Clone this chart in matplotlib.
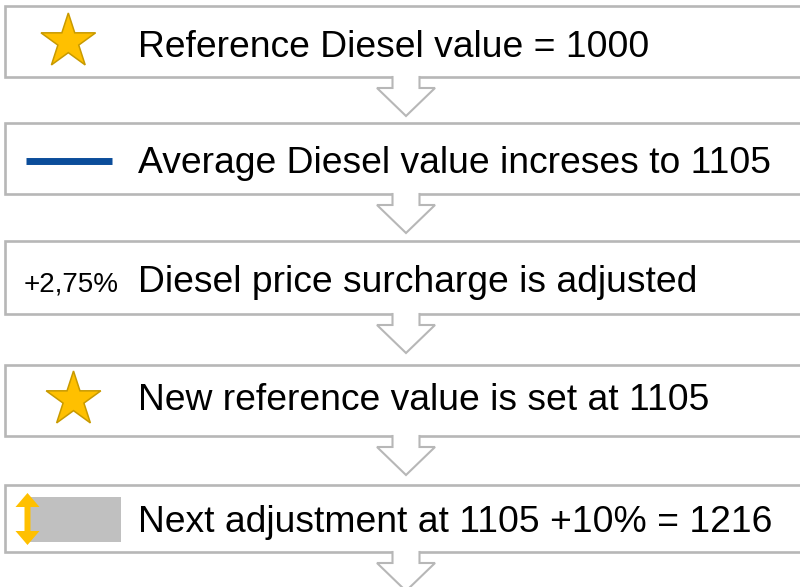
import numpy as np
import matplotlib.pyplot as plt
from matplotlib.patches import Rectangle, Polygon

plt.rcParams['font.family'] = ['Liberation Sans', 'DejaVu Sans']

# steps of the diesel surcharge process
steps = ['Reference Diesel value = 1000',
         'Average Diesel value increses to 1105',
         'Diesel price surcharge is adjusted',
         'New reference value is set at 1105',
         'Next adjustment at 1105 +10% = 1216']
icons = ['star', 'line', 'pct', 'star', 'range']
surcharge_label = '+2,75%'

# layout (pixels, figure is 800x587)
box_top = [6, 123, 241, 365, 485]
box_bot = [77, 194, 314, 436, 552]
baseline = [56.7, 172.7, 291.7, 410, 531.7]
star_x = [68.3, 0, 0, 73.5, 0]

border = '#b7b7b7'
gold = '#ffc000'
gold_edge = '#c89a00'
blue = '#0b4d9a'

fig = plt.figure(figsize=(8, 5.87), dpi=100)
ax = fig.add_axes([0, 0, 1, 1])
ax.set_xlim(0, 800)
ax.set_ylim(587, 0)
ax.axis('off')


def star(cx, cy, r, ri):
    ang = np.pi / 2 + np.arange(10) * np.pi / 5
    rad = np.where(np.arange(10) % 2 == 0, r, ri)
    return np.column_stack([cx + rad * np.cos(ang), cy - rad * np.sin(ang)])


def down_arrow(y0, cx=406):
    pts = [(cx - 13.5, y0), (cx - 13.5, y0 + 11), (cx - 29, y0 + 11), (cx, y0 + 39),
           (cx + 29, y0 + 11), (cx + 13.5, y0 + 11), (cx + 13.5, y0)]
    fill = [(cx - 13.5, y0 - 3)] + pts + [(cx + 13.5, y0 - 3)]
    ax.add_patch(Polygon(fill, closed=True, facecolor='white', edgecolor='none', zorder=3))
    xs, ys = zip(*pts)
    ax.plot(xs, ys, color=border, lw=1.5, zorder=4, solid_joinstyle='miter')


for i, text in enumerate(steps):
    t, b = box_top[i], box_bot[i]
    ax.add_patch(Rectangle((5, t), 820, b - t, facecolor='white', edgecolor=border,
                           lw=1.9, zorder=1, clip_on=False))
    if icons[i] == 'star':
        top = t + 7 if i == 0 else t + 6
        ax.add_patch(Polygon(star(star_x[i], top + 28.7, 28.7, 28.7 * 0.382), closed=True,
                             facecolor=gold, edgecolor=gold_edge, lw=1.1, zorder=2))
    elif icons[i] == 'line':
        ax.plot([26, 112], [161, 161], color=blue, lw=5, solid_capstyle='butt', zorder=2)
    elif icons[i] == 'pct':
        ax.text(24, baseline[i], surcharge_label, fontsize=20, va='baseline', ha='left', zorder=2)
    elif icons[i] == 'range':
        ax.add_patch(Rectangle((27, 497), 94, 45, facecolor='#c0c0c0', edgecolor='none', zorder=2))
        ax.add_patch(Polygon([(27.5, 493), (39.5, 507), (30.5, 507), (30.5, 531), (39.5, 531),
                              (27.5, 545), (15.5, 531), (24.5, 531), (24.5, 507), (15.5, 507)],
                             closed=True, facecolor=gold, edgecolor='none', zorder=3))
    ax.text(138, baseline[i], text, fontsize=26.8, va='baseline', ha='left', zorder=2)
    down_arrow(b)

fig.savefig('out.png', dpi=100)
